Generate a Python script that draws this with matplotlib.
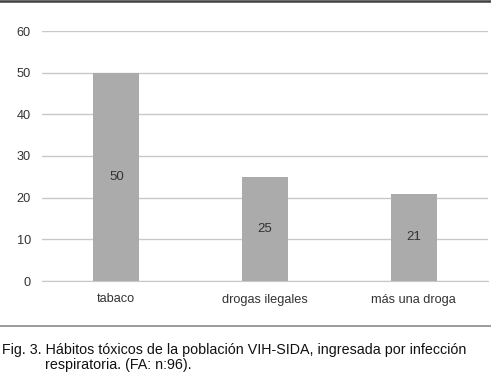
import matplotlib
matplotlib.use("Agg")
import matplotlib.pyplot as plt
from matplotlib.lines import Line2D

categories = ["tabaco", "drogas ilegales", "más una droga"]
values = [50, 25, 21]
yticks = [0, 10, 20, 30, 40, 50, 60]
caption1 = "Fig. 3. Hábitos tóxicos de la población VIH-SIDA, ingresada por infección"
caption2 = "respiratoria. (FA: n:96)."

plt.rcParams['font.family'] = ['Liberation Sans', 'DejaVu Sans']

fig = plt.figure(figsize=(4.91, 3.73), dpi=100)
ax = fig.add_axes([42/491, (373-281)/373, (488-42)/491, (281-31)/373])

x = list(range(len(categories)))
bars = ax.bar(x, values, width=0.31, color="#ababab", zorder=3)
for xi, v in zip(x, values):
    ax.text(xi, v/2, str(v), ha="center", va="center", fontsize=9.5, color="#333333", zorder=4)

ax.set_ylim(0, 60)
ax.set_xlim(-0.5, len(categories)-0.5)
ax.set_yticks(yticks)
ax.set_xticks(x)
ax.set_xticklabels(categories)
ax.yaxis.grid(True, color="#c8c8c8", linewidth=1, zorder=0)
ax.set_axisbelow(True)
for s in ["top", "right", "left"]:
    ax.spines[s].set_visible(False)
ax.spines["bottom"].set_color("#c8c8c8")
ax.tick_params(axis="both", length=0, labelsize=9.2, colors="#333333")
ax.tick_params(axis="y", pad=8)
ax.tick_params(axis="x", pad=9)

fig.add_artist(Line2D([0, 1], [1-1/373, 1-1/373], color="#404040", linewidth=1.8, transform=fig.transFigure))
fig.add_artist(Line2D([0, 1], [(373-326)/373]*2, color="#8a8a8a", linewidth=1.2, transform=fig.transFigure))

fig.text(2/491, 1-350/373, caption1, fontsize=10.25, color="#111111", va="center", ha="left")
fig.text(45/491, 1-365/373, caption2, fontsize=10.25, color="#111111", va="center", ha="left")

fig.savefig("out.png", dpi=100)
